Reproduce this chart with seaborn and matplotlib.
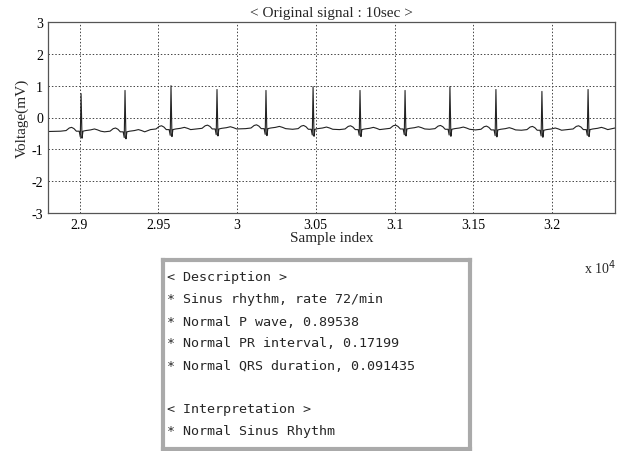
import numpy as np
import pandas as pd
import seaborn as sns
from matplotlib import pyplot as plt
from matplotlib.ticker import FuncFormatter

# R peaks (sample index), their height and the baseline level of each beat
r_peaks = [29010, 29289, 29581, 29873, 30184, 30483, 30781, 31067, 31352, 31644, 31936, 32229]
r_amp = [0.75, 0.85, 1.00, 0.88, 0.85, 0.97, 0.85, 0.85, 0.97, 0.88, 0.82, 0.88]
beat_base = [-0.43, -0.45, -0.38, -0.36, -0.35, -0.37, -0.38, -0.36, -0.37, -0.39, -0.40, -0.38]
# one beat: offsets from the R peak (samples) and voltage above the baseline
tmpl_off = [-130, -95, -75, -60, -45, -30, -12, -5, 0, 6, 12, 30, 60, 85, 105, 125]
tmpl_val = [0.0, 0.02, 0.10, 0.12, 0.08, 0.0, 0.0, -0.18, 1.0, -0.22, 0.0, 0.02, 0.04, 0.07, 0.04, 0.0]
start_mv, end_mv = -0.44, -0.33

desc_lines = ['< Description >', '* Sinus rhythm, rate 72/min', '* Normal P wave, 0.89538',
              '* Normal PR interval, 0.17199', '* Normal QRS duration, 0.091435', '',
              '< Interpretation >', '* Normal Sinus Rhythm']

xs, ys = [28800], [start_mv]
for pk, amp, base in zip(r_peaks, r_amp, beat_base):
    for off, v in zip(tmpl_off, tmpl_val):
        xs.append(pk + off)
        ys.append(base + (v * (amp - base) if off == 0 else v))
xs.append(32400)
ys.append(end_mv)
ecg = pd.DataFrame({'sample': xs, 'mv': ys})

sns.set_style('white')
plt.rcParams['font.family'] = ['Liberation Serif', 'DejaVu Serif']
plt.rcParams['axes.unicode_minus'] = False

fig = plt.figure(figsize=(6.26, 4.52), dpi=100)
ax = fig.add_axes([48/626, 1-214/452, (615-48)/626, (214-23)/452])
sns.lineplot(data=ecg, x='sample', y='mv', ax=ax, color='#222222', linewidth=0.8, estimator=None, sort=False)
ax.set_xlim(28800, 32400)
ax.set_ylim(-3, 3)
ax.set_xticks(np.arange(29000, 32001, 500))
ax.set_yticks(range(-3, 4))
ax.xaxis.set_major_formatter(FuncFormatter(lambda v, p: '%g' % (v / 1e4)))
ax.grid(True, color='#444444', linestyle=(0, (1.5, 2)), linewidth=0.7)
ax.tick_params(direction='in', length=3, labelsize=10, colors='black')
for s in ax.spines.values():
    s.set_color('#555555')
    s.set_linewidth(0.9)
ax.set_xlabel('Sample index', fontsize=11, labelpad=0)
ax.set_ylabel('Voltage(mV)', fontsize=11, labelpad=2)
ax.set_title('< Original signal : 10sec >', fontsize=11, pad=4)
fig.text(600/626, 1-268/452, 'x 10$^4$', fontsize=10, ha='center', va='center')

# description box
bx = fig.add_axes([163/626, 2/452, (470-163)/626, (452-263)/452])
bx.set_xticks([])
bx.set_yticks([])
for s in bx.spines.values():
    s.set_color('#aaaaaa')
    s.set_linewidth(3)
for i, line in enumerate(desc_lines):
    fig.text(167/626, 1-(278 + 22*i)/452, line, fontsize=9.6, ha='left', va='center',
             family=['DejaVu Sans Mono'])

fig.savefig('out.png', dpi=100)
